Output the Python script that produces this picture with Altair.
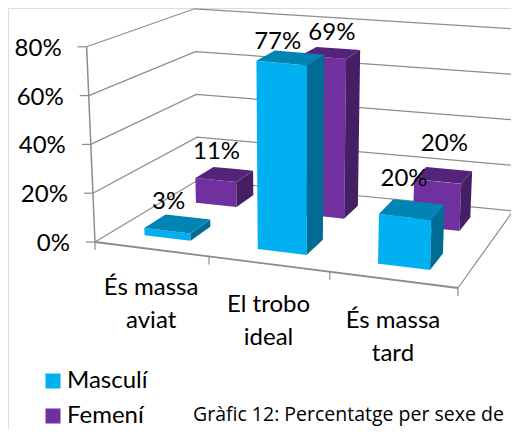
import altair as alt
import numpy as np
import pandas as pd

categories = ["És massa aviat", "El trobo ideal", "És massa tard"]
cat_lines = [["És massa", "aviat"], ["El trobo", "ideal"], ["És massa", "tard"]]
masculi = [3, 77, 20]
femeni = [11, 69, 20]
y_ticks = [0, 20, 40, 60, 80]
colors = {"Masculí": ("#00B0F0", "#0084B4", "#006C93"),
          "Femení": ("#7030A0", "#54247A", "#451E63")}
depth = {"Masculí": (0.15, 0.35), "Femení": (0.65, 0.85)}
label_shift = {"Masculí": [(-9, -22), (-13, -16), (-8, -30)],
               "Femení": [(-8, -22), (1, -20), (1, -31)]}
cat_label_drop = [39, 41, 41]
bar_halfwidth = {"Masculí": 0.069, "Femení": 0.066}
FONT = "Lato"

# floor of the 3D box: front-left, front-right, back-right, back-left
floor = [(95, 242), (458, 288), (513, 211), (198, 180)]
squares = [(0, 0), (1, 0), (1, 1), (0, 1)]
A, b = [], []
for (u, v), (x, y) in zip(squares, floor):
    A.append([u, v, 1, 0, 0, 0, -u * x, -v * x]); b.append(x)
    A.append([0, 0, 0, u, v, 1, -u * y, -v * y]); b.append(y)
H = np.append(np.linalg.solve(np.array(A, float), np.array(b, float)), 1).reshape(3, 3)


def project(u, v, value):
    uw = u + 0.045 * u * (1 - u) * (1 - v)
    px, py, w = H @ np.array([uw, v, 1.0])
    fx, fy = px / w, py / w
    scale = (2.44 * (1 - u) + 2.55 * u) * (1 - v) + (2.14 * (1 - u) + 2.27 * u) * v
    h = value * scale
    return fx + (fx - 290) * 2.2e-4 * h, fy - h


def area_rows(points):
    """Convex polygon as x / y / y2 rows of an area mark."""
    xs = sorted({round(p[0], 3) for p in points})
    n = len(points)
    rows = []
    for x in xs:
        ys = []
        for i in range(n):
            (x0, y0), (x1, y1) = points[i], points[(i + 1) % n]
            lo, hi = min(x0, x1), max(x0, x1)
            if lo - 1e-3 <= x <= hi + 1e-3:
                if abs(x1 - x0) < 1e-3:
                    ys += [y0, y1]
                else:
                    ys.append(y0 + (y1 - y0) * (x - x0) / (x1 - x0))
        rows.append({"x": x, "y": min(ys), "y2": max(ys)})
    return rows


X = alt.Scale(domain=[8, 511], range=[0, 503])
Y = alt.Scale(domain=[429, 8], range=[421, 0])
xq = alt.X("x:Q", scale=X, axis=None)
yq = alt.Y("y:Q", scale=Y, axis=None)
layers = []


def line(pts, width=1.2, color="#8C8C8C"):
    d = pd.DataFrame([{"x": p[0], "y": p[1], "o": i} for i, p in enumerate(pts)])
    layers.append(alt.Chart(d).mark_line(color=color, strokeWidth=width, clip=False)
                  .encode(x=xq, y=yq, order="o:Q"))


# walls
for t in y_ticks:
    if t:
        line([project(0, 0, t), project(0, 1, t), project(1.03, 1, t)])
line([project(0, 0, 0), project(0, 1, 0), project(1, 1, 0), project(1, 0, 0)])
line([project(0, 0, 0), project(0, 0, 80)], 1.5)
line([project(0, 0, 0), project(1, 0, 0)], 1.8)
for t in y_ticks:
    x0, y0 = project(0, 0, t)
    line([(x0 - 9, y0), (x0, y0)], 1.2)
for u in [0, 1 / 3, 2 / 3, 1]:
    x0, y0 = project(u, 0, 0)
    line([(x0, y0), (x0, y0 + 8)], 1.2)


def poly(points, color, series=None):
    d = pd.DataFrame(area_rows(points))
    if series is None:
        enc = {"color": alt.value(color)}
    else:
        d["serie"] = series
        enc = {"color": alt.Color("serie:N",
                                  scale=alt.Scale(domain=list(colors), range=[colors[k][0] for k in colors]),
                                  legend=alt.Legend(title=None, orient="none", legendX=33, legendY=361,
                                                    symbolType="square", symbolSize=225, symbolStrokeWidth=0,
                                                    labelFont=FONT, labelFontSize=24, labelColor="#000000",
                                                    rowPadding=11, labelOffset=2))}
    layers.append(alt.Chart(d).mark_area(interpolate="linear", clip=False)
                  .encode(x=xq, y=yq, y2=alt.Y2("y2:Q"), **enc))


def bar(c, series, value):
    hw = bar_halfwidth[series]
    u0, u1 = (c + 0.5) / 3 - hw, (c + 0.5) / 3 + hw
    v0, v1 = depth[series]
    front, top, side = colors[series]
    poly([project(u0, v0, 0), project(u1, v0, 0), project(u1, v0, value), project(u0, v0, value)], front, series)
    poly([project(u1, v0, 0), project(u1, v1, 0), project(u1, v1, value), project(u1, v0, value)], side)
    poly([project(u0, v0, value), project(u1, v0, value), project(u1, v1, value), project(u0, v1, value)], top)


for c in range(3):
    bar(c, "Femení", femeni[c])
    bar(c, "Masculí", masculi[c])

# text
texts = []
for t in y_ticks:
    x0, y0 = project(0, 0, t)
    texts.append({"x": x0 - 25, "y": y0 + 2, "t": f"{t}%", "a": "right"})
for c, ls in enumerate(cat_lines):
    x0, y0 = project((c + 0.5) / 3, 0, 0)
    for i, s in enumerate(ls):
        texts.append({"x": x0, "y": y0 + cat_label_drop[c] + 33 * i, "t": s, "a": "center"})
for c in range(3):
    for series, vals in (("Masculí", masculi), ("Femení", femeni)):
        v0, v1 = depth[series]
        x0, y0 = project((c + 0.5) / 3, (v0 + v1) / 2, vals[c])
        dx, dy = label_shift[series][c]
        texts.append({"x": x0 + dx, "y": y0 + dy, "t": f"{vals[c]}%", "a": "center"})
td = pd.DataFrame(texts)
for a in ("left", "center", "right"):
    sub = td[td.a == a]
    if len(sub):
        layers.append(alt.Chart(sub).mark_text(font=FONT, fontSize=24, align=a, baseline="middle", color="#000000", clip=False)
                      .encode(x=xq, y=yq, text="t:N"))

cap = pd.DataFrame([{"x": 193, "y": 415, "t": "Gràfic 12: Percentatge per sexe de"}])
layers.append(alt.Chart(cap).mark_text(font="Open Sans", fontSize=19.5, align="left", baseline="middle", color="#000000", clip=False)
              .encode(x=xq, y=yq, text="t:N"))

chart = alt.layer(*layers).properties(
    width=503, height=421, padding=0, autosize=alt.AutoSizeParams(type="none"),
).configure_view(stroke=None).configure(background="#FFFFFF")

chart.save("out.html", embed_options={"renderer": "svg", "actions": False})
